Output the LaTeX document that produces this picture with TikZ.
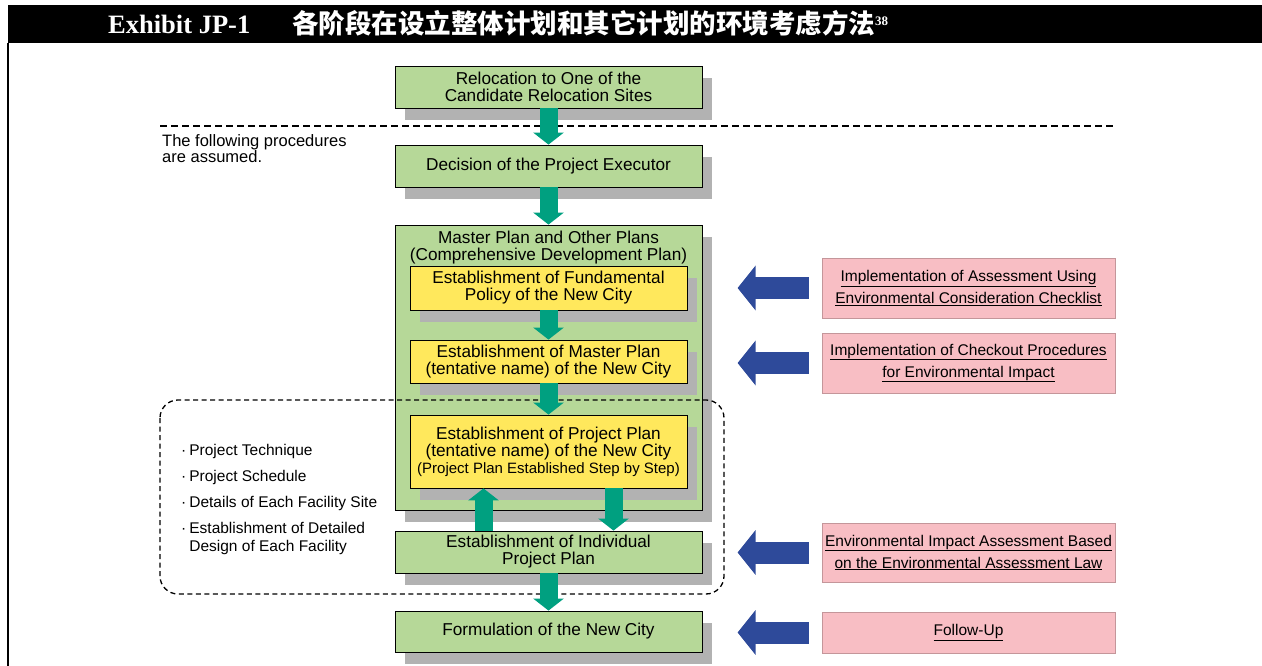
\documentclass[tikz,border=0pt]{standalone}
\usepackage{fontspec}
\setmainfont{Liberation Sans}
\newfontfamily\titlefont{Liberation Serif}
\newfontfamily\cjkfont{Noto Sans CJK SC}
\usetikzlibrary{arrows.meta,shadows}
\definecolor{boxgreen}{RGB}{182,216,152}
\definecolor{boxyellow}{RGB}{255,232,92}
\definecolor{boxpink}{RGB}{248,190,196}
\definecolor{pinkedge}{RGB}{196,150,154}
\definecolor{arrteal}{RGB}{0,160,128}
\definecolor{arrblue}{RGB}{46,74,154}
\definecolor{shadowgray}{RGB}{178,178,178}
\newcommand\mainsz{\fontsize{17.2}{17}\selectfont}
\newcommand\smallsz{\fontsize{15}{16}\selectfont}
\newcommand\pinksz{\fontsize{15.5}{22}\selectfont}
\newcommand\bulsz{\fontsize{15.5}{18}\selectfont}
\begin{document}
\begin{tikzpicture}[x=1pt,y=-1pt,
  shad/.style={drop shadow={shadow xshift=10pt,shadow yshift=-12pt,fill=shadowgray,opacity=1}},
  gbox/.style={shad,draw=black,line width=0.8pt,fill=boxgreen,minimum width=307pt,minimum height=42pt,align=center,font=\mainsz,inner sep=0pt},
  ybox/.style={shad,draw=black,line width=0.8pt,fill=boxyellow,minimum width=277pt,minimum height=44pt,align=center,font=\mainsz,inner sep=0pt},
  pbox/.style={draw=pinkedge,line width=0.8pt,fill=boxpink,minimum width=293pt,align=center,font=\pinksz,inner sep=0pt},
  tealarr/.style={line width=18pt,arrteal,-{Triangle[width=30pt,length=12pt]}},
  bluearr/.style={line width=22pt,arrblue,-{Triangle[width=44pt,length=18pt]}},
  plaintext/.style={inner sep=0pt,anchor=base west},
  bul/.style={plaintext,font=\bulsz,align=left}]
\useasboundingbox (0,0) rectangle (1262,666);
% title bar and frame
\fill[black] (8,5) rectangle (1262,43);
\draw[line width=2pt] (8,43) -- (8,666);
\node[plaintext,text=white,font=\titlefont\bfseries\fontsize{26.5}{28}\selectfont] (ttl) at (108,34) {Exhibit JP-1};
\node[plaintext,text=white,font=\cjkfont\bfseries\fontsize{26.5}{28}\selectfont] (ttlcn) at (292,34) {各阶段在设立整体计划和其它计划的环境考虑方法{\titlefont\bfseries\fontsize{13}{14}\selectfont\raisebox{8pt}{38}}};

% center column
\node[gbox] (reloc) at (548.5,87) {Relocation to One of the\\Candidate Relocation Sites};
\node[gbox] (exec) at (548.5,166) {Decision of the Project Executor};
\node[gbox,minimum height=285pt] (master) at (548.5,367.5) {};
\node[inner sep=0pt,align=center,font=\mainsz,anchor=north] (mtitle) at ([yshift=-6pt]master.north) {Master Plan and Other Plans\\(Comprehensive Development Plan)};
\node[ybox] (fund) at (548.5,288) {Establishment of Fundamental\\Policy of the New City};
\node[ybox,minimum height=43pt] (mplan) at (548.5,361.5) {Establishment of Master Plan\\(tentative name) of the New City};
\node[ybox,minimum height=73pt] (pplan) at (548.5,451.5) {Establishment of Project Plan\\(tentative name) of the New City\\{\smallsz(Project Plan Established Step by Step)}};
\node[gbox] (indiv) at (548.5,552) {Establishment of Individual\\Project Plan};
\node[gbox,minimum height=41pt] (form) at (548.5,631.5) {Formulation of the New City};

% separator
\coordinate (sepL) at (160,126);
\coordinate (sepR) at (1115,126);
\draw[line width=2pt,dash pattern=on 7pt off 4pt] (sepL) -- (sepR);
\node[plaintext,font=\fontsize{16.5}{15}\selectfont,align=left] (assumed) at (162,163) {The following procedures\\are assumed.};

% dashed group
\draw[line width=1.3pt,dash pattern=on 5pt off 3.5pt,rounded corners=18pt] (160,400) rectangle (724,594);

% teal arrows
\draw[tealarr] (reloc.south) -- (exec.north);
\draw[tealarr] (exec.south) -- (master.north);
\draw[tealarr] (fund.south) -- (mplan.north);
\draw[tealarr] (mplan.south) -- (pplan.north);
\draw[tealarr] ([xshift=-65pt]indiv.north) -- ([xshift=-65pt]pplan.south);
\draw[tealarr] ([xshift=65pt]pplan.south) -- ([xshift=65pt]indiv.north);
\draw[tealarr] (indiv.south) -- (form.north);

% bullets
\node[bul] (b1) at (181,455) {·\hspace{3pt}Project Technique};
\node[bul] (b2) at (181,481) {·\hspace{3pt}Project Schedule};
\node[bul] (b3) at (181,507) {·\hspace{3pt}Details of Each Facility Site};
\node[bul] (b4) at (181,551) {·\hspace{3pt}Establishment of Detailed\\\phantom{·}\hspace{3pt}Design of Each Facility};

% pink boxes
\node[pbox,minimum height=60pt] (p1) at (968.5,288) {\underline{Implementation of Assessment Using}\\\underline{Environmental Consideration Checklist}};
\node[pbox,minimum height=60pt] (p2) at (968.5,363) {\underline{Implementation of Checkout Procedures}\\\underline{for Environmental Impact}};
\node[pbox,minimum height=59pt] (p3) at (968.5,552.5) {\underline{Environmental Impact Assessment Based}\\\underline{on the Environmental Assessment Law}};
\node[pbox,minimum height=41pt] (p4) at (968.5,632.5) {\underline{Follow-Up}};

% blue arrows
\draw[bluearr] ([xshift=-13pt]p1.west) -- ([xshift=-84pt]p1.west);
\draw[bluearr] ([xshift=-13pt]p2.west) -- ([xshift=-84pt]p2.west);
\draw[bluearr] ([xshift=-13pt]p3.west) -- ([xshift=-84pt]p3.west);
\draw[bluearr] ([xshift=-13pt]p4.west) -- ([xshift=-84pt]p4.west);
\end{tikzpicture}
\end{document}
